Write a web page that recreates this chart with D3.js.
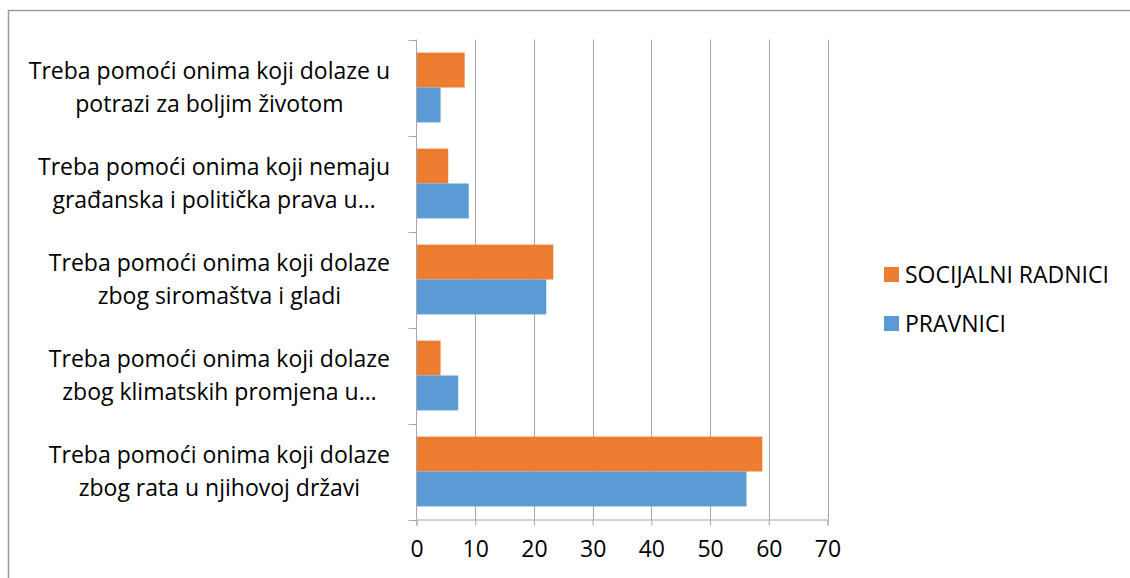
<!DOCTYPE html>
<html>
<head>
<meta charset="utf-8">
<script src="https://cdn.jsdelivr.net/npm/d3@7"></script>
<style>
  body { margin: 0; background: #fff; }
  svg { display: block; font-family: "Open Sans", Lato, sans-serif; }
</style>
</head>
<body>
<svg id="chart" width="1130" height="578"></svg>
<script>
  // categories, top to bottom as drawn
  var categories = [
    ["Treba pomoći onima koji dolaze u", "potrazi za boljim životom"],
    ["Treba pomoći onima koji nemaju", "građanska i politička prava u…"],
    ["Treba pomoći onima koji dolaze", "zbog siromaštva i gladi"],
    ["Treba pomoći onima koji dolaze", "zbog klimatskih promjena u…"],
    ["Treba pomoći onima koji dolaze", "zbog rata u njihovoj državi"]
  ];
  var socijalniRadnici = [8.2, 5.4, 23.3, 4.1, 58.9];
  var pravnici = [4.1, 8.9, 22.1, 7.1, 56.2];
  var seriesNames = ["SOCIJALNI RADNICI", "PRAVNICI"];
  var seriesColors = ["#ED7D31", "#5B9BD5"];
  var xTicks = [0, 10, 20, 30, 40, 50, 60, 70];

  (function () {
    var svg = d3.select("#chart");
    var plotLeft = 416.5, plotRight = 827.5, plotTop = 39.5, plotBottom = 519.5;
    var fontSize = "23px";
    var fontFamily = "'Open Sans', Lato, sans-serif";
    var axisColor = "#a6a6a6";

    // chart border (cut off right/bottom like the reference)
    svg.append("path")
      .attr("d", "M8.5,600 V10.5 H1140")
      .attr("fill", "none")
      .attr("stroke", "#9a9a9a")
      .attr("stroke-width", 1.5);

    var x = d3.scaleLinear().domain([0, 70]).range([plotLeft, plotRight]);
    var y = d3.scaleBand().domain(d3.range(categories.length)).range([plotTop, plotBottom]);
    // Excel gap width 75% -> each bar = band / 2.75
    var barH = y.bandwidth() / 2.75;
    var gap = (y.bandwidth() - 2 * barH) / 2;

    // gridlines
    svg.append("g").selectAll("line")
      .data(xTicks.slice(1))
      .join("line")
      .attr("x1", function (d) { return Math.round(x(d)) + 0.5; })
      .attr("x2", function (d) { return Math.round(x(d)) + 0.5; })
      .attr("y1", plotTop)
      .attr("y2", plotBottom)
      .attr("stroke", axisColor)
      .attr("stroke-width", 1);

    // bars
    var groups = svg.append("g").selectAll("g")
      .data(categories)
      .join("g")
      .attr("transform", function (d, i) { return "translate(0," + y(i) + ")"; });

    groups.append("rect")
      .attr("x", plotLeft)
      .attr("y", gap)
      .attr("height", barH)
      .attr("width", function (d, i) { return x(socijalniRadnici[i]) - plotLeft; })
      .attr("fill", seriesColors[0]);

    groups.append("rect")
      .attr("x", plotLeft)
      .attr("y", gap + barH)
      .attr("height", barH)
      .attr("width", function (d, i) { return x(pravnici[i]) - plotLeft; })
      .attr("fill", seriesColors[1]);

    // x axis
    var xAxis = svg.append("g")
      .attr("transform", "translate(0," + plotBottom + ")")
      .call(d3.axisBottom(x).tickValues(xTicks).tickSize(6).tickPadding(15));
    xAxis.select(".domain").attr("stroke", axisColor);
    xAxis.selectAll(".tick line").attr("stroke", axisColor);
    xAxis.selectAll(".tick text")
      .attr("fill", "#000")
      .style("font-size", fontSize)
      .style("font-family", fontFamily);

    // y axis line and ticks at band edges
    svg.append("line")
      .attr("x1", plotLeft).attr("x2", plotLeft)
      .attr("y1", plotTop).attr("y2", plotBottom)
      .attr("stroke", axisColor);
    svg.append("g").selectAll("line")
      .data(d3.range(categories.length + 1))
      .join("line")
      .attr("x1", plotLeft - 8).attr("x2", plotLeft)
      .attr("y1", function (i) { return Math.round(plotTop + i * y.step()) + 0.5; })
      .attr("y2", function (i) { return Math.round(plotTop + i * y.step()) + 0.5; })
      .attr("stroke", axisColor);

    // category labels: lines centered, block right-aligned
    var labels = svg.append("g").selectAll("text")
      .data(categories)
      .join("text")
      .attr("text-anchor", "middle")
      .attr("fill", "#000")
      .style("font-size", fontSize);
    labels.each(function (lines, i) {
      var t = d3.select(this);
      var cy = y(i) + y.bandwidth() / 2;
      lines.forEach(function (ln, k) {
        t.append("tspan")
          .attr("y", cy + (k - 0.5) * 33)
          .attr("dy", "0.35em")
          .text(ln);
      });
      var maxW = 0;
      t.selectAll("tspan").each(function () {
        maxW = Math.max(maxW, this.getComputedTextLength());
      });
      t.selectAll("tspan").attr("x", 390 - maxW / 2);
    });

    // legend
    var legend = svg.append("g").selectAll("g")
      .data(seriesNames)
      .join("g")
      .attr("transform", function (d, i) { return "translate(884," + (267 + i * 49) + ")"; });
    legend.append("rect")
      .attr("width", 15).attr("height", 15)
      .attr("fill", function (d, i) { return seriesColors[i]; });
    legend.append("text")
      .attr("x", 21).attr("y", 7.5)
      .attr("dy", "0.35em")
      .style("font-size", fontSize)
      .attr("fill", "#000")
      .text(function (d) { return d; });
  })();
</script>
</body>
</html>
